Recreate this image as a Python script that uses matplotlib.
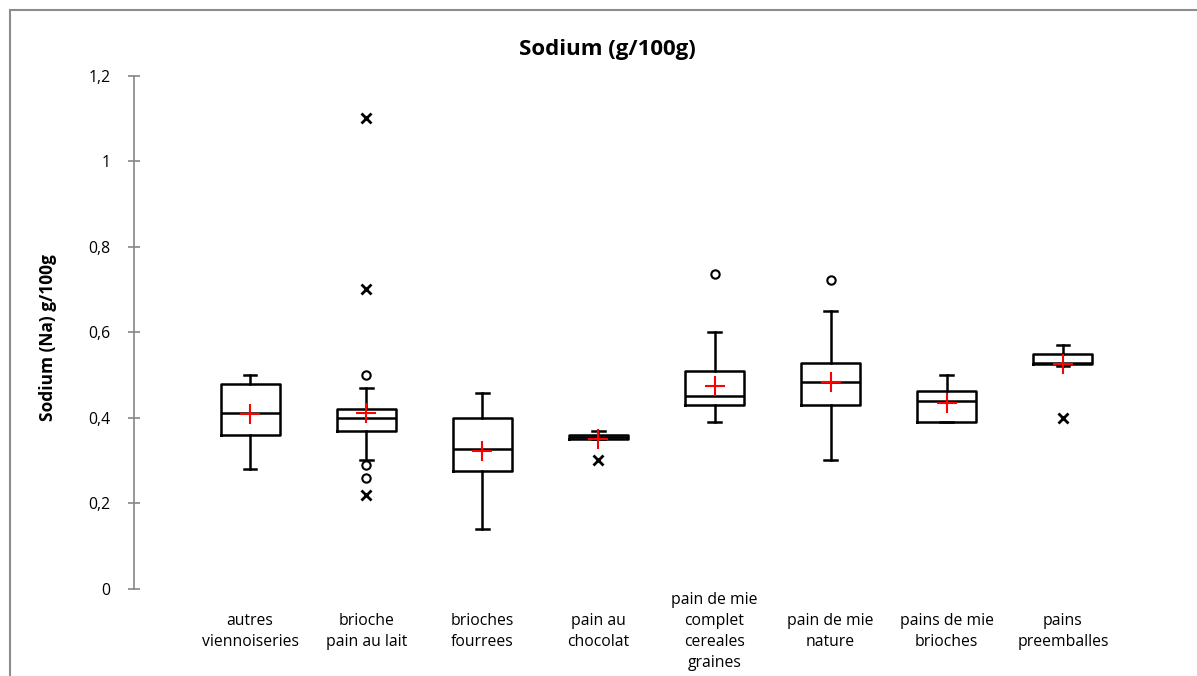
import matplotlib.pyplot as plt
from matplotlib.patches import Rectangle

plt.rcParams['font.family'] = ['Open Sans', 'DejaVu Sans']

# données
categories = ['autres\nviennoiseries', 'brioche\npain au lait', 'brioches\nfourrees',
              'pain au\nchocolat', 'pain de mie\ncomplet\ncereales\ngraines',
              'pain de mie\nnature', 'pains de mie\nbrioches', 'pains\npreemballes']
whis_bas = [0.28, 0.30, 0.14, 0.35, 0.39, 0.30, 0.39, 0.52]
q1 = [0.36, 0.37, 0.275, 0.35, 0.43, 0.43, 0.39, 0.525]
mediane = [0.41, 0.40, 0.327, 0.355, 0.45, 0.484, 0.44, 0.527]
q3 = [0.48, 0.42, 0.40, 0.36, 0.51, 0.529, 0.462, 0.55]
whis_haut = [0.50, 0.47, 0.458, 0.37, 0.60, 0.65, 0.50, 0.57]
moyenne = [0.408, 0.41, 0.323, 0.351, 0.473, 0.483, 0.435, 0.525]
outliers_moderes = [[], [0.50, 0.29, 0.26], [], [], [0.737], [0.723], [], []]
outliers_extremes = [[], [1.1, 0.7, 0.22], [], [0.30], [], [], [], [0.40]]

yticks = [0, 0.2, 0.4, 0.6, 0.8, 1.0, 1.2]
ytick_labels = ['0', '0,2', '0,4', '0,6', '0,8', '1', '1,2']

fig = plt.figure(figsize=(11.97, 6.76), dpi=100)
ax = fig.add_axes([134 / 1197, 1 - 588.7 / 676, 1045 / 1197, 513 / 676])

positions = list(range(1, len(categories) + 1))
stats = []
for i in range(len(categories)):
    stats.append({'whislo': whis_bas[i], 'q1': q1[i], 'med': mediane[i],
                  'q3': q3[i], 'whishi': whis_haut[i], 'fliers': []})

ax.bxp(stats, positions=positions, widths=0.51, capwidths=0.11, showfliers=False,
       boxprops=dict(color='black', linewidth=1.8),
       medianprops=dict(color='black', linewidth=1.8),
       whiskerprops=dict(color='black', linewidth=1.8),
       capprops=dict(color='black', linewidth=1.8))

ax.plot(positions, moyenne, linestyle='none', marker='+', color='red',
        markersize=14, markeredgewidth=1.5, zorder=5)

for p, vals in zip(positions, outliers_moderes):
    if vals:
        ax.plot([p] * len(vals), vals, linestyle='none', marker='o', markersize=6,
                markerfacecolor='white', markeredgecolor='black', markeredgewidth=1.5)
for p, vals in zip(positions, outliers_extremes):
    if vals:
        ax.plot([p] * len(vals), vals, linestyle='none', marker='x', markersize=7,
                color='black', markeredgewidth=2)

ax.set_xlim(0, 9)
ax.set_ylim(0, 1.2)
ax.set_yticks(yticks)
ax.set_yticklabels(ytick_labels)
ax.set_xticks(positions)
ax.set_xticklabels(categories, linespacing=1.42)
for lab in ax.get_xticklabels():
    lab.set_va('center')

for s in ['top', 'right', 'bottom']:
    ax.spines[s].set_visible(False)
ax.spines['left'].set_color('#868686')
ax.spines['left'].set_linewidth(1.2)
ax.tick_params(axis='y', direction='inout', length=8, width=1.2, color='#868686',
               labelsize=11.3, pad=13)
ax.tick_params(axis='x', length=0, labelsize=11.3, pad=31)

ax.set_ylabel('Sodium (Na) g/100g', fontsize=12.5, fontweight='bold')
ax.yaxis.set_label_coords(57 / 1197, 0.5, transform=fig.transFigure)

fig.text(607 / 1197, 1 - 50 / 676, 'Sodium (g/100g)', fontsize=16, fontweight='bold',
         ha='center', va='center')

# cadre du graphique
fig.patches.append(Rectangle((10 / 1197, -0.1), 1.2, 1.1 - 10 / 676, transform=fig.transFigure,
                             fill=False, edgecolor='#8c8c8c', linewidth=1.5))

fig.savefig('out.png', dpi=100)
